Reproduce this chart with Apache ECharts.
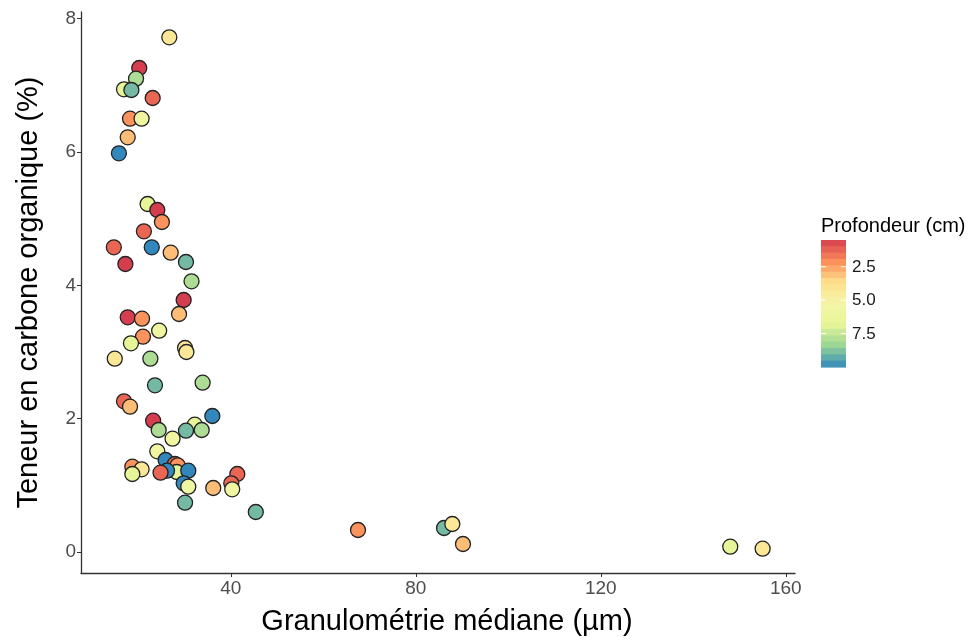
<!DOCTYPE html>
<html><head><meta charset="utf-8">
<script src="https://cdn.jsdelivr.net/npm/echarts@6/dist/echarts.min.js"></script>
<style>html,body{margin:0;padding:0;background:#fff}#c{width:972px;height:641px}</style>
</head><body><div id="c"></div>
<script>
// Median grain size (µm)
const granulo = [26.7,20.2,19.5,16.9,18.5,23.1,18.2,20.7,17.7,15.8,
  22.0,24.1,25.1,21.2,14.7,22.9,27.0,30.3,17.2,31.5,29.8,28.8,17.7,20.8,24.5,21.0,18.4,30.1,30.4,14.9,22.6,
  23.6,33.9,16.9,18.2,36.0,23.2,24.4,32.2,33.7,30.3,27.4,24.1,25.9,27.9,28.5,28.3,26.2,24.8,30.8,29.8,30.8,
  18.7,20.7,18.7,36.2,41.4,40.1,40.3,30.1,45.4,
  67.5,86.1,87.9,90.2,148.0,155.0];
// Organic carbon content (%)
const carbone = [7.72,7.26,7.10,6.94,6.93,6.81,6.50,6.50,6.22,5.98,
  5.22,5.13,4.95,4.81,4.57,4.57,4.49,4.35,4.32,4.06,3.78,3.57,3.52,3.50,3.32,3.23,3.13,3.06,3.00,2.90,2.90,
  2.50,2.54,2.26,2.18,2.04,1.97,1.83,1.91,1.83,1.82,1.70,1.51,1.38,1.32,1.30,1.20,1.22,1.19,1.22,1.03,0.98,
  1.28,1.24,1.17,0.96,1.17,1.03,0.94,0.74,0.60,
  0.33,0.36,0.42,0.12,0.08,0.05];
// Depth (cm)
const profondeur = [4.2,0.5,8.0,6.8,9.0,1.3,2.2,5.8,3.0,10,
  6.8,0.5,2.2,1.3,1.3,10,3.0,9.0,0.5,8.0,0.5,3.0,0.5,2.2,5.8,2.2,6.8,4.2,4.2,4.2,8.0,
  9.0,8.0,1.3,3.0,10,0.5,8.0,6.8,8.0,9.0,5.8,5.8,10,1.3,2.2,6.8,10,1.3,10,10,5.8,
  2.2,4.2,6.8,3.0,1.3,1.3,5.8,9.0,9.0,
  2.2,9.0,4.2,3.0,6.8,4.2];
const xTicks = [40,80,120,160];
const yTicks = [0,2,4,6,8];
const legendTicks = [2.5,5.0,7.5];
const spectral = ['#D53E4F','#FC8D59','#FEE08B','#F5F5A8','#E6F598','#99D594','#3288BD'];

const depthMin = 0.5, depthMax = 10;
const barTop = 240, barH = 127, barLeft = 821, barW = 25, nBins = 20;

const points = granulo.map((g,i)=>[g, carbone[i], profondeur[i]]);
const font = 'Liberation Sans, Arial, sans-serif';

const graphics = [
  {type:'text', left: barLeft, top: barTop-24, style:{text:'Profondeur (cm)', font:'20px '+font, fill:'#000'}}
];
for (let i=0;i<nBins;i++){
  graphics.push({type:'rect', shape:{x:barLeft, y:barTop+i*barH/nBins, width:barW, height:barH/nBins+0.6},
    style:{fill: echarts.color.lerp((i+0.5)/nBins, spectral)}, silent:true});
}
legendTicks.forEach(v=>{
  const y = barTop + (v-depthMin)/(depthMax-depthMin)*barH;
  graphics.push({type:'text', left: barLeft+barW+6, top: y-8, style:{text:v.toFixed(1), font:'17px '+font, fill:'#1A1A1A'}});
  graphics.push({type:'line', shape:{x1:barLeft, y1:y, x2:barLeft+5, y2:y}, style:{stroke:'#fff', lineWidth:1}, z:100});
  graphics.push({type:'line', shape:{x1:barLeft+barW-5, y1:y, x2:barLeft+barW, y2:y}, style:{stroke:'#fff', lineWidth:1}, z:100});
});

const chart = echarts.init(document.getElementById('c'), null, {renderer:'canvas'});
chart.setOption({
  animation:false,
  backgroundColor:'#fff',
  grid:{left:81, right:177, top:12, bottom:68, containLabel:false},
  xAxis:{
    type:'value', min:7.6, max:162,
    name:'Granulométrie médiane (µm)', nameLocation:'middle', nameGap:34,
    nameTextStyle:{fontSize:29, color:'#000', fontFamily:font, padding:[0,0,0,18]},
    axisLine:{show:true, onZero:false, lineStyle:{color:'#333', width:1.3}},
    axisTick:{show:true, length:4, lineStyle:{color:'#333'}, customValues:xTicks},
    axisLabel:{fontSize:19, color:'#4D4D4D', fontFamily:font, margin:6, customValues:xTicks},
    splitLine:{show:false}
  },
  yAxis:{
    type:'value', min:-0.315, max:8.1,
    name:'Teneur en carbone organique (%)', nameLocation:'middle', nameGap:38,
    nameTextStyle:{fontSize:29, color:'#000', fontFamily:font},
    axisLine:{show:true, onZero:false, lineStyle:{color:'#333', width:1.3}},
    axisTick:{show:true, length:4, lineStyle:{color:'#333'}, customValues:yTicks},
    axisLabel:{fontSize:19, color:'#4D4D4D', fontFamily:font, margin:5, customValues:yTicks},
    splitLine:{show:false}
  },
  visualMap:{
    type:'continuous', show:false, min:depthMin, max:depthMax, dimension:2,
    inRange:{color:spectral}, seriesIndex:0
  },
  graphic:graphics,
  series:[{
    type:'scatter', data:points, symbol:'circle', symbolSize:15,
    itemStyle:{borderColor:'#222', borderWidth:1.3, opacity:1}
  }]
});
</script></body></html>
